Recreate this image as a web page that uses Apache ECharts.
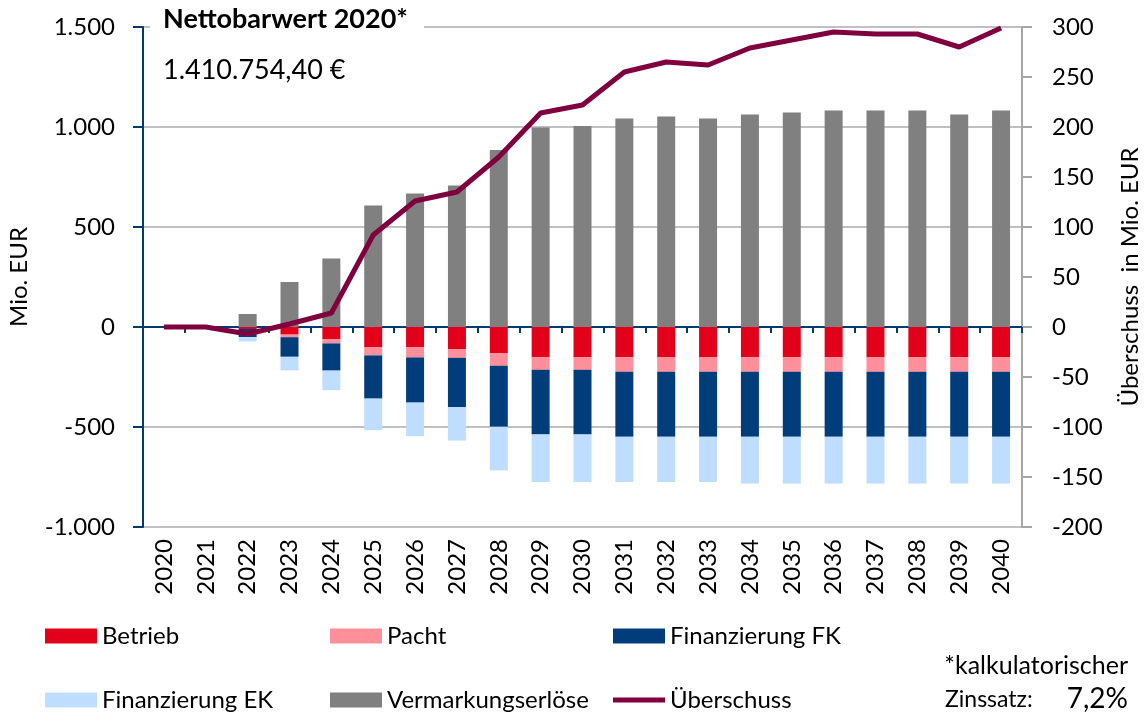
<!DOCTYPE html>
<html>
<head>
<meta charset="utf-8">
<script src="https://cdn.jsdelivr.net/npm/echarts@6/dist/echarts.min.js"></script>
<style>
  html, body { margin: 0; padding: 0; background: #fff; }
  #chart { width: 1147px; height: 717px; }
</style>
</head>
<body>
<div id="chart"></div>
<script>
const years = ["2020","2021","2022","2023","2024","2025","2026","2027","2028","2029","2030",
  "2031","2032","2033","2034","2035","2036","2037","2038","2039","2040"];

// Mio. EUR (left axis)
const betrieb = [0, 0, -10, -38, -60, -100, -100, -112, -132, -152, -152,
  -152, -152, -152, -152, -152, -152, -152, -152, -152, -152];
const pacht = [0, 0, 0, -13, -22, -42, -52, -42, -62, -62, -62,
  -72, -72, -72, -72, -72, -72, -72, -72, -72, -72];
const finanzFK = [0, 0, -40, -98, -136, -216, -226, -246, -305, -323, -323,
  -325, -325, -325, -325, -325, -325, -325, -325, -325, -325];
const finanzEK = [0, 0, -22, -68, -98, -158, -168, -168, -218, -238, -238,
  -226, -226, -226, -234, -234, -234, -234, -234, -234, -234];
const erloese = [0, 0, 65, 225, 342, 608, 668, 708, 885, 997, 1005,
  1043, 1053, 1043, 1063, 1073, 1083, 1083, 1083, 1063, 1083];

// Mio. EUR (right axis)
const ueberschuss = [0, 0, -7, 3, 14, 92, 126, 135, 170, 214, 222,
  255, 265, 262, 279, 287, 295, 293, 293, 280, 299];

const FONT = "Lato, 'Noto Sans', sans-serif";
const axisBlue = "#003a70";

function deNum(v) {
  const s = String(Math.abs(v)).replace(/\B(?=(\d{3})+(?!\d))/g, ".");
  return (v < 0 ? "-" : "") + s;
}

const chart = echarts.init(document.getElementById("chart"));

function barSeries(name, data, color) {
  return {
    name: name, type: "bar", stack: "total", data: data,
    barWidth: 18, itemStyle: { color: color }
  };
}

// thick line icon for the line series, padded so it is not stretched
const lineIcon = "path://M0,0 L0,0 M0,5 L52,5 L52,10 L0,10 Z M52,15 L52,15";

function legendCol(left, items) {
  return {
    left: left, top: 624, orient: "vertical", itemGap: 40,
    itemWidth: 52, itemHeight: 15, padding: 0,
    textStyle: { color: "#000", fontSize: 24, fontFamily: FONT },
    data: items
  };
}

const option = {
  animation: false,
  textStyle: { fontFamily: FONT },
  grid: { left: 143, right: 125, top: 27, bottom: 190, outerBoundsMode: "none", containLabel: false },
  xAxis: [
    {
      type: "category", data: years, boundaryGap: true,
      axisLine: { onZero: true, lineStyle: { color: axisBlue, width: 2 } },
      axisTick: { show: true, length: 6, lineStyle: { color: axisBlue, width: 2 } },
      axisLabel: { show: false }
    },
    {
      type: "category", data: years, position: "bottom",
      axisLine: { show: false, onZero: false },
      axisTick: { show: false },
      axisLabel: { rotate: 90, margin: 12, color: "#000", fontSize: 24, fontFamily: FONT }
    }
  ],
  yAxis: [
    {
      type: "value", min: -1000, max: 1500, interval: 500,
      name: "Mio. EUR", nameLocation: "middle", nameRotate: 90, nameGap: 112,
      nameTextStyle: { color: "#000", fontSize: 24, fontFamily: FONT },
      axisLine: { show: true, lineStyle: { color: axisBlue, width: 2 } },
      axisTick: { show: true, length: 10, lineStyle: { color: axisBlue, width: 2 } },
      axisLabel: { color: "#000", fontSize: 24, margin: 28, fontFamily: FONT, formatter: deNum },
      splitLine: { show: true, lineStyle: { color: "#c0c0c0", width: 2 } }
    },
    {
      type: "value", min: -200, max: 300, interval: 50, position: "right",
      name: "Überschuss  in Mio. EUR", nameLocation: "middle", nameRotate: 90, nameGap: 96,
      nameTextStyle: { color: "#000", fontSize: 24, fontFamily: FONT },
      axisLine: { show: true, lineStyle: { color: "#a6a6a6", width: 2 } },
      axisTick: { show: true, length: 10, lineStyle: { color: "#a6a6a6", width: 2 } },
      axisLabel: { color: "#000", fontSize: 24, margin: 30, fontFamily: FONT },
      splitLine: { show: false }
    }
  ],
  legend: [
    legendCol(45, [{ name: "Betrieb", icon: "rect" }, { name: "Finanzierung EK", icon: "rect" }]),
    legendCol(330, [{ name: "Pacht", icon: "rect" }, { name: "Vermarkungserlöse", icon: "rect" }]),
    legendCol(613, [{ name: "Finanzierung FK", icon: "rect" }, { name: "Überschuss", icon: lineIcon }])
  ],
  graphic: [
    { type: "rect", left: 150, top: 4, shape: { width: 274, height: 40 }, style: { fill: "#fff" }, z: 10 },
    { type: "text", left: 163, top: 6, z: 11,
      style: { text: "Nettobarwert 2020*", fill: "#000", font: "bold 27px " + FONT } },
    { type: "text", left: 163, top: 57, z: 11,
      style: { text: "1.410.754,40 €", fill: "#000", font: "27px " + FONT } },
    { type: "text", right: 19, top: 653, z: 11,
      style: { text: "*kalkulatorischer", fill: "#000", font: "25px " + FONT } },
    { type: "text", left: 945, top: 688, z: 11,
      style: { text: "Zinssatz:", fill: "#000", font: "23px " + FONT } },
    { type: "text", right: 19, top: 685, z: 11,
      style: { text: "7,2%", fill: "#000", font: "28px " + FONT } }
  ],
  series: [
    barSeries("Betrieb", betrieb, "#e2001a"),
    barSeries("Pacht", pacht, "#ff8f9a"),
    barSeries("Finanzierung FK", finanzFK, "#003d7a"),
    barSeries("Finanzierung EK", finanzEK, "#bfdeff"),
    barSeries("Vermarkungserlöse", erloese, "#808080"),
    {
      name: "Überschuss", type: "line", yAxisIndex: 1, data: ueberschuss,
      symbol: "none", lineStyle: { color: "#80003f", width: 5 },
      itemStyle: { color: "#80003f" }, z: 5
    }
  ]
};

chart.setOption(option);
</script>
</body>
</html>
